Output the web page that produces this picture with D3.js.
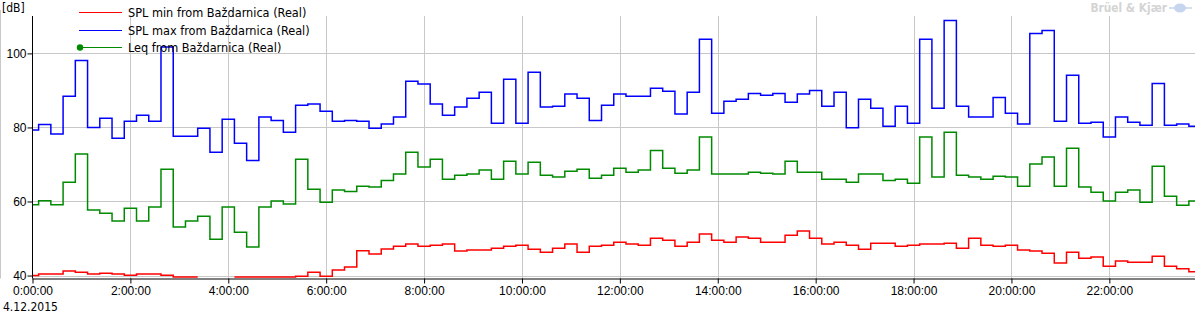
<!DOCTYPE html>
<html>
<head>
<meta charset="utf-8">
<script src="https://cdn.jsdelivr.net/npm/d3@7"></script>
<style>
  body { margin: 0; background: #fff; }
  svg { display: block; font-family: "DejaVu Sans Condensed", "DejaVu Sans", sans-serif; }
</style>
</head>
<body>
<svg id="chart" width="1195" height="314"></svg>
<script>
// 15 minute values, 4.12.2015, starting 0:00
var day = new Date(2015, 11, 4, 0, 0, 0);
var stepMin = 15;

var splMax = [79.3, 80.8, 78.2, 88.4, 98.1, 80.0, 82.5, 77.1, 81.7, 83.3, 81.7, 101.7,
  77.6, 77.6, 79.8, 73.3, 82.2, 75.7, 71.1, 82.8, 81.9, 78.7, 86.0, 86.3,
  84.4, 81.7, 81.9, 81.7, 79.8, 80.9, 82.8, 92.5, 91.7, 86.3, 83.3, 85.5,
  87.9, 89.5, 81.1, 93.0, 81.1, 94.9, 85.5, 85.7, 89.0, 87.9, 81.9, 86.0,
  89.0, 88.4, 88.4, 90.6, 89.8, 83.6, 89.5, 103.8, 83.8, 87.1, 87.6, 89.2,
  88.7, 89.2, 86.8, 89.0, 90.0, 85.7, 89.5, 79.9, 87.6, 85.2, 80.3, 85.7,
  81.1, 103.8, 85.2, 108.9, 85.7, 82.8, 82.8, 88.1, 83.8, 80.9, 105.4, 106.2,
  81.7, 94.1, 81.1, 81.4, 77.4, 82.8, 81.4, 80.6, 91.9, 80.6, 80.9, 80.3];

var leq = [59.1, 60.2, 59.1, 65.2, 72.8, 57.7, 56.8, 54.7, 58.2, 54.7, 58.5, 68.7,
  53.1, 54.7, 56.0, 49.8, 58.5, 51.7, 47.7, 58.5, 60.1, 59.3, 71.4, 63.3,
  59.8, 63.1, 62.7, 64.1, 63.9, 65.7, 67.4, 73.3, 69.3, 71.4, 66.0, 67.1,
  67.4, 68.5, 66.0, 70.9, 67.4, 70.6, 67.1, 66.6, 68.2, 68.7, 66.3, 67.1,
  69.0, 67.9, 68.5, 73.8, 69.0, 67.6, 68.5, 77.4, 67.4, 67.4, 67.4, 67.9,
  67.6, 67.4, 70.9, 67.9, 67.9, 66.0, 66.0, 65.2, 67.4, 67.4, 65.7, 66.0,
  64.9, 77.4, 66.6, 78.7, 67.1, 66.6, 66.0, 66.8, 66.6, 64.1, 70.1, 72.0,
  64.1, 74.4, 63.9, 62.5, 60.1, 62.5, 63.1, 59.8, 69.5, 61.4, 59.0, 60.1];

var splMin = [40.0, 40.4, 40.4, 41.2, 40.9, 40.4, 40.6, 40.4, 40.1, 40.4, 40.4, 40.1,
  39.6, 39.6, null, null, null, 39.6, 39.6, 39.6, 39.6, 39.6, 39.8, 40.9,
  39.8, 41.5, 42.3, 46.7, 45.8, 47.2, 47.9, 48.5, 47.9, 48.2, 48.5, 46.6,
  46.9, 46.9, 47.4, 47.9, 48.2, 47.1, 46.3, 47.4, 48.5, 46.3, 47.9, 48.2,
  49.0, 48.5, 48.2, 50.1, 49.5, 47.9, 49.0, 51.2, 49.5, 49.0, 50.4, 50.1,
  49.0, 49.0, 50.9, 52.0, 50.1, 48.5, 49.0, 48.2, 47.1, 48.7, 48.7, 47.9,
  48.2, 48.5, 48.5, 48.7, 47.4, 50.1, 48.2, 47.9, 48.2, 46.9, 46.6, 46.0,
  43.4, 46.3, 44.7, 45.0, 42.5, 43.9, 43.6, 43.6, 45.2, 42.5, 41.8, 41.0];

var yTicks = [40, 60, 80, 100];
var seriesNames = ["SPL min from Baždarnica (Real)", "SPL max from Baždarnica (Real)", "Leq from Baždarnica (Real)"];
var seriesColors = ["#ff0000", "#0000ff", "#008a00"];

var svg = d3.select("#chart");
var pLeft = 32.5, pRight = 1195, pTop = 16, pBottom = 278.5;

var t0 = day, t1 = d3.timeMinute.offset(day, (splMax.length - 1) * stepMin);
var x = d3.scaleTime().domain([t0, t1]).range([pLeft, pRight]);
var y = d3.scaleLinear().domain([39.2, 110.1]).range([pBottom, pTop]);

// frame and grid
svg.append("line").attr("x1", 0.5).attr("x2", 0.5).attr("y1", 10).attr("y2", pBottom)
  .attr("stroke", "#c8c8c8");

var grid = svg.append("g");
grid.selectAll("line.h").data(yTicks).enter().append("line")
  .attr("x1", pLeft).attr("x2", pRight)
  .attr("y1", function(d) { return Math.round(y(d)) + 0.5; })
  .attr("y2", function(d) { return Math.round(y(d)) + 0.5; })
  .attr("stroke", "#c8c8c8");
grid.selectAll("line.v").data(x.ticks(d3.timeHour.every(2)).slice(1)).enter().append("line")
  .attr("x1", function(d) { return Math.round(x(d)) + 0.5; })
  .attr("x2", function(d) { return Math.round(x(d)) + 0.5; })
  .attr("y1", pTop).attr("y2", pBottom)
  .attr("stroke", "#c8c8c8");

// series
svg.append("clipPath").attr("id", "plot").append("rect")
  .attr("x", pLeft).attr("y", pTop).attr("width", pRight - pLeft).attr("height", pBottom - pTop);

var half = stepMin / 2;
var stepPoints = function(values) {
  var pts = [];
  values.forEach(function(v, i) {
    var t = d3.timeMinute.offset(day, i * stepMin);
    pts.push({t: new Date(+t - half * 60000), v: v});
    pts.push({t: new Date(+t + half * 60000), v: v});
  });
  return pts;
};
var line = d3.line()
  .defined(function(d) { return d.v != null; })
  .x(function(d) { return x(d.t); })
  .y(function(d) { return y(d.v); });

var plot = svg.append("g").attr("clip-path", "url(#plot)");
[splMax, leq, splMin].forEach(function(vals, i) {
  var color = [seriesColors[1], seriesColors[2], seriesColors[0]][i];
  plot.append("path").datum(stepPoints(vals))
    .attr("d", line)
    .attr("fill", "none")
    .attr("stroke", color)
    .attr("stroke-width", 1.5);
});

// axes
var xAxis = svg.append("g").attr("transform", "translate(0," + pBottom + ")");
xAxis.call(d3.axisBottom(x).ticks(d3.timeMinute.every(20)).tickSize(3).tickFormat(""));
xAxis.call(d3.axisBottom(x).ticks(d3.timeHour.every(2)).tickSize(5)
  .tickFormat(d3.timeFormat("%-H:%M:%S")));
xAxis.selectAll(".domain").attr("d", "M" + pLeft + ",0.5H" + pRight);
xAxis.selectAll("text").attr("font-size", 12).attr("font-family", null)
  .attr("fill", "#000").attr("y", 8);

var yAxis = svg.append("g").attr("transform", "translate(" + pLeft + ",0)");
yAxis.call(d3.axisLeft(y).tickValues(yTicks).tickSize(5));
yAxis.selectAll(".domain").attr("d", "M0," + pTop + "V" + pBottom);
yAxis.selectAll("text").attr("font-size", 12).attr("font-family", null)
  .attr("fill", "#000").attr("x", -6);

svg.append("text").attr("x", 3).attr("y", 311).attr("font-size", 12).text("4.12.2015");
svg.append("text").attr("x", 2).attr("y", 12).attr("font-size", 12).text("[dB]");

// legend
var legend = svg.append("g");
seriesNames.forEach(function(name, i) {
  var ly = Math.round(12 + i * 17.5) + 0.5;
  legend.append("line").attr("x1", 79).attr("x2", 122).attr("y1", ly).attr("y2", ly)
    .attr("stroke", seriesColors[i]).attr("stroke-width", 1);
  if (i == 2) {
    legend.append("circle").attr("cx", 80).attr("cy", ly).attr("r", 3.2)
      .attr("fill", seriesColors[i]);
  }
  legend.append("text").attr("x", 128).attr("y", ly + 4.5).attr("font-size", 12.6).text(name);
});

// logo
var logo = svg.append("g").attr("fill", "#d4d4d4");
logo.append("text").attr("x", 1167).attr("y", 12).attr("text-anchor", "end")
  .attr("font-size", 11.8).attr("font-weight", "bold").text("Brüel & Kjær");
logo.append("ellipse").attr("cx", 1180).attr("cy", 8).attr("rx", 6).attr("ry", 4.5).attr("fill", "#c6d6ee");
logo.append("line").attr("x1", 1169).attr("x2", 1192).attr("y1", 8).attr("y2", 8)
  .attr("stroke", "#c6d6ee").attr("stroke-width", 1.5);
</script>
</body>
</html>
